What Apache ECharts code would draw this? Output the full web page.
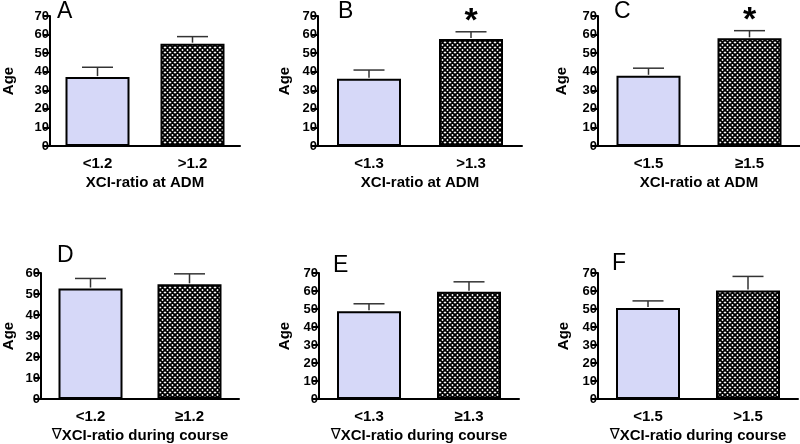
<!DOCTYPE html>
<html><head><meta charset="utf-8">
<script src="https://cdn.jsdelivr.net/npm/echarts@6/dist/echarts.min.js"></script>
<style>html,body{margin:0;padding:0;background:#fff}#c{width:800px;height:444px}</style>
</head><body><div id="c"></div>
<script>
// ---- data ----
const panelLetters = ['A', 'B', 'C', 'D', 'E', 'F'];
const catsA = ['<1.2', '>1.2'];
const catsB = ['<1.3', '>1.3'];
const catsC = ['<1.5', '≥1.5'];
const catsD = ['<1.2', '≥1.2'];
const catsE = ['<1.3', '≥1.3'];
const catsF = ['<1.5', '>1.5'];
const meanA = [37.1, 55.1], upperA = [42.4, 58.9], sigA = ['', ''];
const meanB = [36.2, 57.6], upperB = [40.9, 61.5], sigB = ['', '*'];
const meanC = [37.8, 58.0], upperC = [41.9, 62.1], sigC = ['', '*'];
const meanD = [52.6, 54.6], upperD = [57.4, 59.6], sigD = ['', ''];
const meanE = [48.7, 59.6], upperE = [52.9, 65.1], sigE = ['', ''];
const meanF = [50.5, 60.3], upperF = [54.5, 68.1], sigF = ['', ''];
const yMaxes = [70, 70, 70, 60, 70, 70];
const yTickStep = 10;
const yTitle = 'Age';
const xTitleTop = 'XCI-ratio at ADM';
const xTitleBottomSymbol = '∇';
const xTitleBottomText = 'XCI-ratio during course';

// ---- layout / style ----
const FONT = '"Liberation Sans", Arial, sans-serif';
const grids = [
  {left: 48, top: 16, width: 192, height: 130},
  {left: 318, top: 16, width: 204, height: 130},
  {left: 598, top: 16, width: 202, height: 130},
  {left: 39, top: 273, width: 200, height: 128},
  {left: 319, top: 273, width: 200, height: 128},
  {left: 598, top: 273, width: 200, height: 128}
];
const letterPos = [[57, 0], [338, 0], [614, 0], [57, 244], [333, 254], [612, 252]];
const nameGaps = [34, 26, 29, 25, 27, 27];

const pc = document.createElement('canvas');
pc.width = 5; pc.height = 5;
const g = pc.getContext('2d');
g.fillStyle = '#fff'; g.fillRect(0, 0, 5, 5);
g.strokeStyle = '#000'; g.lineWidth = 1.9;
g.beginPath();
g.moveTo(-1, -1); g.lineTo(6, 6);
g.moveTo(6, -1); g.lineTo(-1, 6);
g.moveTo(-1, 4); g.lineTo(1, 6);
g.moveTo(4, -1); g.lineTo(6, 1);
g.moveTo(-1, 1); g.lineTo(1, -1);
g.moveTo(4, 6); g.lineTo(6, 4);
g.stroke();
const hatch = {image: pc, repeat: 'repeat'};
const blue = '#d6d8f8';

const cats = [catsA, catsB, catsC, catsD, catsE, catsF];
const means = [meanA, meanB, meanC, meanD, meanE, meanF];
const uppers = [upperA, upperB, upperC, upperD, upperE, upperF];
const sigs = [sigA, sigB, sigC, sigD, sigE, sigF];

const option = {
  animation: false,
  backgroundColor: '#fff',
  title: panelLetters.map((t, i) => ({
    text: t, left: letterPos[i][0], top: letterPos[i][1], padding: 0,
    textStyle: {fontFamily: FONT, fontSize: 23, fontWeight: 'normal', color: '#000'}
  })),
  grid: grids,
  xAxis: cats.map((c, i) => ({
    type: 'category', gridIndex: i, data: c,
    axisLine: {lineStyle: {color: '#000', width: 2}},
    axisTick: {show: false},
    axisLabel: {fontFamily: FONT, fontSize: 15, fontWeight: 'bold', color: '#000', margin: 10},
    name: i < 3 ? xTitleTop : '{n|' + xTitleBottomSymbol + '}{b|' + xTitleBottomText + '}',
    nameLocation: 'middle', nameGap: 29,
    nameTextStyle: {
      fontFamily: FONT, fontSize: 15, fontWeight: 'bold', color: '#000',
      rich: {
        n: {fontFamily: '"DejaVu Sans", sans-serif', fontSize: 15, fontWeight: 'normal', color: '#000'},
        b: {fontFamily: FONT, fontSize: 15, fontWeight: 'bold', color: '#000'}
      }
    }
  })),
  yAxis: yMaxes.map((m, i) => ({
    type: 'value', gridIndex: i, min: 0, max: m, interval: yTickStep,
    splitLine: {show: false},
    axisLine: {show: true, lineStyle: {color: '#000', width: 2}},
    axisTick: {show: true, length: 6, lineStyle: {color: '#000', width: 2}},
    axisLabel: {fontFamily: FONT, fontSize: 13, fontWeight: 'bold', color: '#000', margin: 1},
    name: yTitle, nameLocation: 'middle', nameGap: nameGaps[i], nameRotate: 90,
    nameTextStyle: {fontFamily: FONT, fontSize: 15, fontWeight: 'bold', color: '#000'}
  })),
  series: []
};

cats.forEach((c, p) => {
  option.series.push({
    type: 'bar', xAxisIndex: p, yAxisIndex: p, barWidth: 64,
    data: means[p].map((v, k) => ({
      value: v,
      itemStyle: {color: k === 0 ? blue : hatch, borderColor: '#000', borderWidth: 2}
    }))
  });
  option.series.push({
    type: 'custom', xAxisIndex: p, yAxisIndex: p, z: 5,
    data: means[p].map((v, k) => [k, v, uppers[p][k]]),
    renderItem: (params, api) => {
      const x = api.value(0), m = api.value(1), u = api.value(2);
      const base = api.coord([x, m]);
      const top = api.coord([x, u]);
      const half = 15.5;
      const st = {stroke: '#333', lineWidth: 1.5};
      const children = [
        {type: 'line', shape: {x1: base[0], y1: base[1] - 1, x2: top[0], y2: top[1]}, style: st},
        {type: 'line', shape: {x1: top[0] - half, y1: top[1], x2: top[0] + half, y2: top[1]}, style: st}
      ];
      const s = sigs[p][params.dataIndex];
      if (s) {
        children.push({type: 'text', style: {
          text: s, x: top[0], y: top[1] - 10, align: 'center', verticalAlign: 'middle',
          font: 'bold 34px "Liberation Sans", Arial, sans-serif', fill: '#000'
        }});
      }
      return {type: 'group', children};
    }
  });
});

const chart = echarts.init(document.getElementById('c'), null, {renderer: 'canvas'});
chart.setOption(option);
</script>
</body></html>
